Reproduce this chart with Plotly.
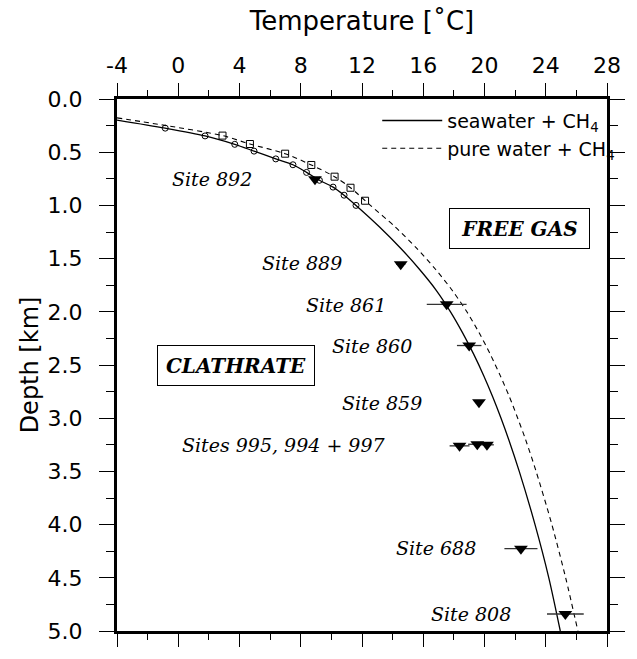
import plotly.graph_objects as go

# Phase boundary curves (temperature degC, depth km)
sea_T = [-4.0, -0.85, 1.75, 3.69, 4.95, 6.37, 7.49, 8.38, 9.22, 10.11, 10.83, 11.61,
         13.13, 14.51, 15.75, 16.86, 17.78, 18.58, 19.3, 19.95, 20.54, 21.08, 21.58,
         22.27, 23.3, 24.2, 24.95]
sea_D = [0.198, 0.274, 0.347, 0.426, 0.49, 0.563, 0.618, 0.69, 0.764, 0.828, 0.904, 1.0,
         1.2, 1.4, 1.6, 1.8, 2.0, 2.2, 2.4, 2.6, 2.8, 3.0, 3.2,
         3.5, 4.0, 4.5, 5.0]
pure_T = [-4.0, -1.0, 2.89, 4.68, 6.98, 8.69, 10.21, 11.25, 12.55,
          14.15, 15.55, 16.8, 17.9, 18.85, 19.66, 20.38, 21.03, 21.63, 22.17, 22.68,
          23.37, 24.4, 25.3, 26.1]
pure_D = [0.177, 0.245, 0.344, 0.423, 0.514, 0.62, 0.73, 0.834, 1.0,
          1.2, 1.4, 1.6, 1.8, 2.0, 2.2, 2.4, 2.6, 2.8, 3.0, 3.2,
          3.5, 4.0, 4.5, 5.0]

# Experimental points
circ_T = [-0.85, 1.75, 3.69, 4.95, 6.37, 7.49, 8.38, 9.22, 10.11, 10.83, 11.61]
circ_D = [0.274, 0.347, 0.426, 0.49, 0.563, 0.618, 0.69, 0.764, 0.828, 0.904, 1.0]
sq_T = [2.89, 4.68, 6.98, 8.69, 10.21, 11.25, 12.2]
sq_D = [0.344, 0.423, 0.514, 0.62, 0.73, 0.834, 0.956]

# Drill sites: BSR temperature, depth, error
site_names = ["892", "889", "861", "860", "859", "995", "994", "997", "688", "808"]
site_T = [8.93, 14.53, 17.53, 19.0, 19.64, 18.37, 19.53, 20.16, 22.38, 25.28]
site_D = [0.755, 1.553, 1.93, 2.317, 2.85, 3.26, 3.245, 3.25, 4.226, 4.84]
site_err = [0.0, 0.3, 1.3, 0.8, 0.0, 0.65, 0.6, 0.45, 1.08, 1.2]

x_ticks = [-4, 0, 4, 8, 12, 16, 20, 24, 28]
y_ticks = [0.0, 0.5, 1.0, 1.5, 2.0, 2.5, 3.0, 3.5, 4.0, 4.5, 5.0]

SANS = "DejaVu Sans"
SERIF = "DejaVu Serif"

fig = go.Figure()
fig.add_trace(go.Scatter(x=sea_T, y=sea_D, mode="lines",
                         line=dict(color="black", width=1.3, shape="spline", smoothing=0.8),
                         name="seawater + CH<sub>4</sub>"))
fig.add_trace(go.Scatter(x=pure_T, y=pure_D, mode="lines",
                         line=dict(color="black", width=1.1, dash="5px,4px", shape="spline", smoothing=0.8),
                         name="pure water + CH<sub>4</sub>"))
fig.add_trace(go.Scatter(x=circ_T, y=circ_D, mode="markers", showlegend=False,
                         marker=dict(symbol="circle-open", size=6, color="black", line=dict(width=1))))
fig.add_trace(go.Scatter(x=sq_T, y=sq_D, mode="markers", showlegend=False,
                         marker=dict(symbol="square-open", size=7, color="black", line=dict(width=1))))
fig.add_trace(go.Scatter(x=site_T, y=site_D, mode="markers", showlegend=False,
                         marker=dict(symbol="triangle-down", size=12, color="black"),
                         error_x=dict(type="data", array=site_err, visible=True, width=0,
                                      thickness=1.3, color="#333")))

def label(x, y, text, size=19):
    fig.add_annotation(x=x, y=y, text="<i>" + text + "</i>", showarrow=False,
                       font=dict(family=SERIF, size=size, color="black"))

label(2.2, 0.755, "Site 892")
label(8.05, 1.54, "Site 889")
label(10.95, 1.936, "Site 861")
label(12.64, 2.322, "Site 860")
label(13.33, 2.856, "Site 859")
label(6.9, 3.25, "Sites 995, 994 + 997")
label(16.85, 4.22, "Site 688")
label(19.1, 4.84, "Site 808")

fig.add_annotation(x=3.75, y=2.506, text="<b><i>CLATHRATE</i></b>", showarrow=False,
                   font=dict(family=SERIF, size=20, color="black"),
                   bordercolor="black", borderwidth=1, borderpad=3, width=150, height=33)
fig.add_annotation(x=22.3, y=1.215, text="<b><i>FREE GAS</i></b>", showarrow=False,
                   font=dict(family=SERIF, size=20, color="black"),
                   bordercolor="black", borderwidth=1, borderpad=3, width=133, height=33)

axis_common = dict(showline=True, linewidth=3, linecolor="black", mirror="allticks",
                   ticks="outside", tickwidth=1.3, tickcolor="black",
                   showgrid=False, zeroline=False,
                   tickfont=dict(family=SANS, size=22, color="black"))

fig.update_xaxes(range=[-4, 28], side="top", tickvals=x_ticks, ticklen=13,
                 ticktext=[str(v) for v in x_ticks], ticklabelstandoff=1,
                 minor=dict(dtick=2, tick0=0, ticks="outside", ticklen=6, tickwidth=1.3, tickcolor="black"),
                 **axis_common)
fig.update_yaxes(range=[5, 0], tickvals=y_ticks, ticktext=[f"{v:.1f}" for v in y_ticks], ticklen=15,
                 ticklabelstandoff=12,
                 minor=dict(dtick=0.25, tick0=0, ticks="outside", ticklen=8, tickwidth=1.3, tickcolor="black"),
                 title=dict(text="Depth [km]", font=dict(family=SANS, size=24, color="black"), standoff=3),
                 **axis_common)

fig.update_layout(
    width=637, height=659, margin=dict(l=117, r=15, t=99, b=13),
    plot_bgcolor="white", paper_bgcolor="white",
    title=dict(text="Temperature [˚C]", font=dict(family=SANS, size=26, color="black"),
               x=0.5, xref="paper", xanchor="center", y=1 - 21 / 659, yref="container", yanchor="middle"),
    legend=dict(x=1.027, y=0.995, xanchor="right", yanchor="top", bgcolor="rgba(0,0,0,0)",
                font=dict(family=SANS, size=19, color="black"), itemwidth=60, tracegroupgap=0),
)

fig.write_html("out.html")
